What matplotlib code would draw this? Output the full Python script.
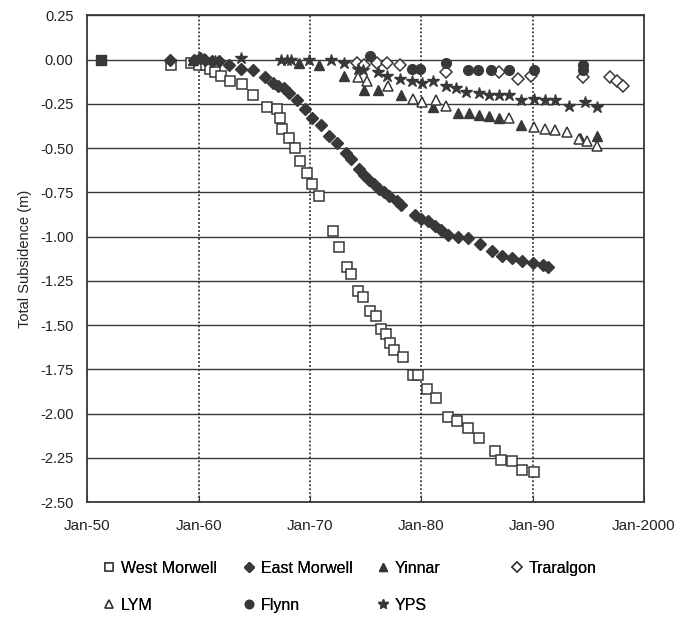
import matplotlib
matplotlib.use("Agg")
import matplotlib.pyplot as plt

plt.rcParams["font.family"] = ["Liberation Sans", "DejaVu Sans"]

INK = "#383838"

# Decimal year / total subsidence (m).
west_morwell_t = [1957.5, 1959.3, 1960.0, 1960.7, 1961.0, 1961.5, 1962.0, 1962.8, 1963.9,
                  1964.9, 1966.1, 1967.0, 1967.3, 1967.5, 1968.1, 1968.7, 1969.1, 1969.7,
                  1970.2, 1970.8, 1972.1, 1972.6, 1973.3, 1973.7, 1974.3, 1974.8, 1975.4,
                  1975.9, 1976.4, 1976.8, 1977.2, 1977.6, 1978.4, 1979.3, 1979.7, 1980.5,
                  1981.3, 1982.4, 1983.2, 1984.2, 1985.2, 1986.6, 1987.2, 1988.2, 1989.1,
                  1990.1]
west_morwell_v = [-0.03, -0.02, -0.03, -0.03, -0.05, -0.07, -0.09, -0.12, -0.14,
                  -0.20, -0.27, -0.28, -0.33, -0.39, -0.44, -0.50, -0.57, -0.64,
                  -0.70, -0.77, -0.97, -1.06, -1.17, -1.21, -1.31, -1.34, -1.42,
                  -1.45, -1.52, -1.55, -1.60, -1.64, -1.68, -1.78, -1.78, -1.86,
                  -1.91, -2.02, -2.04, -2.08, -2.14, -2.21, -2.26, -2.27, -2.32,
                  -2.33]

east_morwell_t = [1957.4, 1959.6, 1960.1, 1960.6, 1961.2, 1961.8, 1962.7, 1963.8, 1964.9,
                  1966.0, 1966.7, 1967.1, 1967.7, 1968.1, 1968.8, 1969.6, 1970.2, 1971.0,
                  1971.7, 1972.4, 1973.2, 1973.7, 1974.4, 1974.9, 1975.3, 1975.8, 1976.2,
                  1976.7, 1977.1, 1977.8, 1978.2, 1979.4, 1980.0, 1980.6, 1981.2, 1981.8,
                  1982.4, 1983.3, 1984.2, 1985.3, 1986.4, 1987.3, 1988.2, 1989.1, 1990.0,
                  1990.9, 1991.4]
east_morwell_v = [0.00, 0.00, 0.01, 0.00, -0.01, -0.01, -0.03, -0.05, -0.06,
                  -0.10, -0.13, -0.15, -0.16, -0.19, -0.23, -0.28, -0.33, -0.37,
                  -0.43, -0.47, -0.53, -0.56, -0.62, -0.65, -0.68, -0.70, -0.73,
                  -0.75, -0.77, -0.80, -0.82, -0.88, -0.90, -0.91, -0.94, -0.96,
                  -0.99, -1.00, -1.01, -1.04, -1.08, -1.11, -1.12, -1.14, -1.15,
                  -1.16, -1.17]

yinnar_t = [1959.5, 1960.5, 1969.0, 1970.8, 1973.1, 1974.9, 1976.1, 1978.2, 1981.1,
            1983.3, 1984.3, 1985.2, 1986.1, 1987.0, 1989.0, 1994.3, 1995.8]
yinnar_v = [0.00, 0.01, -0.02, -0.03, -0.09, -0.17, -0.17, -0.20, -0.27,
            -0.30, -0.30, -0.31, -0.32, -0.33, -0.37, -0.44, -0.43]

traralgon_t = [1974.2, 1974.9, 1976.0, 1976.9, 1978.1, 1982.2, 1987.0, 1988.7, 1989.9,
               1994.5, 1997.0, 1997.6, 1998.1]
traralgon_v = [-0.02, -0.03, -0.02, -0.02, -0.03, -0.07, -0.07, -0.11, -0.09,
               -0.10, -0.10, -0.12, -0.15]

lym_t = [1974.3, 1975.1, 1977.0, 1979.3, 1980.1, 1981.3, 1982.2, 1987.9, 1990.1,
         1991.1, 1992.0, 1993.1, 1994.2, 1994.9, 1995.8]
lym_v = [-0.10, -0.12, -0.15, -0.22, -0.24, -0.23, -0.26, -0.33, -0.38,
         -0.39, -0.40, -0.41, -0.45, -0.46, -0.49]

flynn_t = [1975.4, 1979.2, 1979.9, 1982.2, 1984.2, 1985.1, 1986.3, 1987.9, 1990.1,
           1994.5, 1994.5]
flynn_v = [0.02, -0.05, -0.05, -0.02, -0.06, -0.06, -0.06, -0.06, -0.06,
           -0.03, -0.06]

yps_t = [1960.1, 1961.5, 1963.8, 1967.4, 1967.9, 1968.3, 1969.9, 1971.9, 1973.1,
         1974.3, 1974.8, 1976.1, 1976.9, 1978.1, 1979.2, 1980.1, 1981.1, 1982.2,
         1983.1, 1984.0, 1985.2, 1986.1, 1987.0, 1987.9, 1989.0, 1990.1, 1991.1,
         1992.0, 1993.3, 1994.7, 1995.8]
yps_v = [0.01, -0.01, 0.01, 0.00, 0.00, 0.00, 0.00, 0.00, -0.02,
         -0.05, -0.06, -0.07, -0.09, -0.11, -0.12, -0.13, -0.12, -0.15,
         -0.16, -0.18, -0.19, -0.20, -0.20, -0.20, -0.23, -0.22, -0.23,
         -0.23, -0.26, -0.24, -0.27]

# reference point at the start of the record
datum_t = [1951.2]
datum_v = [0.00]

x_ticks = [1950, 1960, 1970, 1980, 1990, 2000]
x_labels = ["Jan-50", "Jan-60", "Jan-70", "Jan-80", "Jan-90", "Jan-2000"]
y_ticks = [0.25, 0.00, -0.25, -0.50, -0.75, -1.00, -1.25, -1.50, -1.75,
           -2.00, -2.25, -2.50]

fig = plt.figure(figsize=(6.93, 6.19), dpi=100)
ax = fig.add_axes([0.126, 0.189, 0.803, 0.786])

ms = 7
common = dict(linestyle="none", markersize=ms, zorder=3)
h_wm, = ax.plot(west_morwell_t, west_morwell_v, marker="s", mfc="white", mec=INK,
                mew=1.1, label="West Morwell", **common)
h_em, = ax.plot(east_morwell_t, east_morwell_v, marker="D", mfc=INK, mec=INK,
                label="East Morwell", linestyle="none", markersize=6, zorder=3)
h_yi, = ax.plot(yinnar_t, yinnar_v, marker="^", mfc=INK, mec=INK,
                label="Yinnar", **common)
h_tr, = ax.plot(traralgon_t, traralgon_v, marker="D", mfc="white", mec=INK,
                mew=1.1, label="Traralgon", linestyle="none", markersize=6, zorder=3)
h_ly, = ax.plot(lym_t, lym_v, marker="^", mfc="white", mec=INK, mew=1.1,
                label="LYM", **common)
h_fl, = ax.plot(flynn_t, flynn_v, marker="o", mfc=INK, mec=INK,
                label="Flynn", **common)
h_yp, = ax.plot(yps_t, yps_v, marker="*", mfc=INK, mec=INK,
                label="YPS", linestyle="none", markersize=9, zorder=3)
ax.plot(datum_t, datum_v, marker="s", mfc=INK, mec=INK, **common)

ax.set_xlim(1950, 2000)
ax.set_ylim(-2.5, 0.25)
ax.set_xticks(x_ticks)
ax.set_xticklabels(x_labels)
ax.set_yticks(y_ticks)
ax.set_yticklabels([f"{v:.2f}" for v in y_ticks])

for y in y_ticks:
    ax.axhline(y, color=INK, linewidth=1.0, zorder=1)
for x in x_ticks[1:-1]:
    ax.axvline(x, color=INK, linewidth=1.3, linestyle=(0, (1, 1.2)), zorder=1)

for side in ax.spines.values():
    side.set_color(INK)
    side.set_linewidth(1.3)

ax.tick_params(axis="x", direction="in", length=5, color=INK, labelsize=11,
               labelcolor="#222222", pad=12)
ax.tick_params(axis="y", direction="out", length=0, labelsize=10.5,
               labelcolor="#222222", pad=10)
ax.set_ylabel("Total Subsidence (m)", fontsize=10.5, color="#222222", labelpad=6)

# legend laid out as four columns placed under the plot
legend_columns = [([h_wm, h_ly], 103), ([h_em, h_fl], 243), ([h_yi, h_yp], 377),
                  ([h_tr], 511)]
for handles, px in legend_columns:
    leg = fig.legend(handles=handles, loc="upper left",
                     bbox_to_anchor=(px / 693, 1 - 561 / 619), frameon=False,
                     fontsize=11.5, handlelength=0.8, handletextpad=0.3,
                     labelspacing=1.35, markerscale=0.85, borderpad=0,
                     borderaxespad=0)
    fig.add_artist(leg)

fig.savefig("out.png", dpi=100, facecolor="white")
